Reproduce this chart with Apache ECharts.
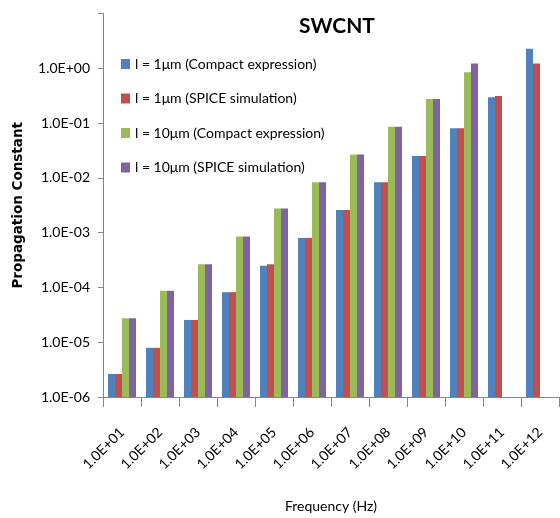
<!DOCTYPE html>
<html><head><meta charset="utf-8">
<script src="https://cdn.jsdelivr.net/npm/echarts@6/dist/echarts.min.js"></script>
<style>html,body{margin:0;padding:0;background:#fff}#c{width:560px;height:518px}</style>
</head><body><div id="c"></div>
<script>
const categories = ['1.0E+01','1.0E+02','1.0E+03','1.0E+04','1.0E+05','1.0E+06','1.0E+07','1.0E+08','1.0E+09','1.0E+10','1.0E+11','1.0E+12'];
const seriesNames = ['l = 1μm (Compact expression)','l = 1μm (SPICE simulation)','l = 10μm (Compact expression)','l = 10μm (SPICE simulation)'];
const compact1  = [2.63e-6, 7.9e-6, 2.55e-5, 8.2e-5, 2.48e-4, 8.0e-4, 2.59e-3, 8.3e-3, 2.52e-2, 0.081, 0.297, 2.29];
const spice1    = [2.63e-6, 7.9e-6, 2.55e-5, 8.2e-5, 2.66e-4, 8.0e-4, 2.59e-3, 8.3e-3, 2.52e-2, 0.081, 0.314, 1.23];
const compact10 = [2.74e-5, 8.7e-5, 2.66e-4, 8.5e-4, 2.77e-3, 8.3e-3, 2.69e-2, 8.6e-2, 0.277, 0.85, null, null];
const spice10   = [2.74e-5, 8.7e-5, 2.66e-4, 8.5e-4, 2.77e-3, 8.3e-3, 2.69e-2, 8.6e-2, 0.277, 1.23, null, null];
const yMin = 1e-6, yMax = 10;
const colors = ['#4F81BD','#C0504D','#9BBB59','#8064A2'];
const font = 'Lato, "Open Sans", sans-serif';
const titleFont = '"Liberation Sans Narrow", Lato, sans-serif';

function fmt(v){
  if (v >= 9.99) return '';
  const e = Math.round(Math.log10(v));
  const s = e < 0 ? '-' : '+';
  const a = Math.abs(e);
  return '1.0E' + s + (a < 10 ? '0' : '') + a;
}

const values = [compact1, spice1, compact10, spice10];
const nSeries = values.length;
const groupFrac = 0.737;

function makeRender(si){
  return function(params, api){
    const v = api.value(1);
    if (v == null || isNaN(v) || v <= 0) return;
    const idx = api.value(0);
    const top = api.coord([idx, v]);
    const base = api.coord([idx, yMin]);
    const band = api.size([1, 1])[0];
    const bw = band * groupFrac / nSeries;
    const x0 = top[0] - band * groupFrac / 2 + si * bw;
    return {type: 'rect', shape: {x: x0, y: top[1], width: bw, height: base[1] - top[1]},
      style: api.style()};
  };
}

const chart = echarts.init(document.getElementById('c'));
chart.setOption({
  animation: false,
  color: colors,
  title: {text: 'SWCNT', left: 332, textAlign: 'center', top: 11,
    textStyle: {fontFamily: titleFont, fontSize: 21, fontWeight: 'bold', color: '#000'}},
  legend: {orient: 'vertical', left: 116, top: 52, itemGap: 20.5, itemWidth: 9, itemHeight: 10,
    icon: 'rect', textStyle: {fontFamily: font, fontSize: 14, color: '#000'}},
  grid: {left: 103, right: 1, top: 13.6, bottom: 114.7, containLabel: false},
  xAxis: {type: 'category', data: categories,
    name: 'Frequency (Hz)', nameLocation: 'middle', nameGap: 102,
    nameTextStyle: {fontFamily: font, fontSize: 14, color: '#000'},
    axisLine: {lineStyle: {color: '#868686'}},
    axisTick: {show: true, alignWithLabel: false, length: 10, lineStyle: {color: '#868686'}},
    axisLabel: {rotate: 45, interval: 0, fontFamily: font, fontSize: 14, color: '#000', margin: 33}},
  yAxis: {type: 'log', logBase: 10, min: yMin, max: yMax,
    name: 'Propagation Constant', nameLocation: 'middle', nameGap: 78,
    nameTextStyle: {fontFamily: '"DejaVu Sans", sans-serif', fontSize: 13.5, fontWeight: 'bold', color: '#000'},
    axisLine: {show: true, lineStyle: {color: '#868686'}},
    axisTick: {show: true, inside: false, length: 5, lineStyle: {color: '#868686'}},
    splitLine: {show: false},
    axisLabel: {formatter: fmt, fontFamily: font, fontSize: 14, color: '#000', margin: 13}},
  series: seriesNames.map((n, i) => ({
    name: n, type: 'custom', renderItem: makeRender(i),
    encode: {x: 0, y: 1},
    data: values[i].map((v, j) => [j, v]),
    itemStyle: {color: colors[i]}
  }))
});
</script></body></html>
